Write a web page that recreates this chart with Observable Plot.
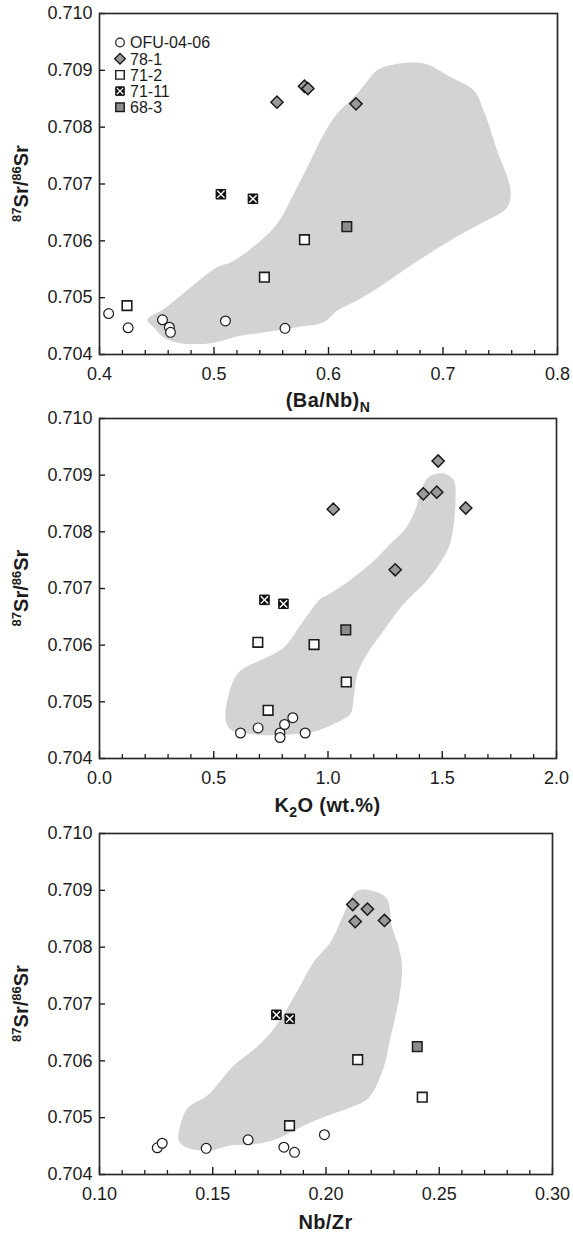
<!DOCTYPE html>
<html>
<head>
<meta charset="utf-8">
<script src="https://cdn.jsdelivr.net/npm/d3@7"></script>
<script src="https://cdn.jsdelivr.net/npm/@observablehq/plot@0.6"></script>
<style>
  body { margin: 0; background: #fff; }
  #root { position: relative; width: 573px; height: 1233px; background: #fff; font-family: "Liberation Sans", Arial, sans-serif; }
  #root svg { position: absolute; left: 0; overflow: visible; }
</style>
</head>
<body>
<div id="root"></div>
<script>
// ---------- shared ----------
const srTicks = [0.704, 0.705, 0.706, 0.707, 0.708, 0.709, 0.710];
const srDomain = [0.704, 0.710];
const legendNames = ["OFU-04-06", "78-1", "71-2", "71-11", "68-3"];

// ---------- Panel 1: (Ba/Nb)N ----------
const baNbTicks = [0.4, 0.5, 0.6, 0.7, 0.8];
const baNbMinor = [0.42,0.44,0.46,0.48,0.52,0.54,0.56,0.58,0.62,0.64,0.66,0.68,0.72,0.74,0.76,0.78];
const baNb_ofu_x = [0.408, 0.425, 0.455, 0.461, 0.462, 0.510, 0.562];
const baNb_ofu_y = [0.70472, 0.70447, 0.70461, 0.70448, 0.70439, 0.70459, 0.70446];
const baNb_781_x = [0.555, 0.579, 0.582, 0.624];
const baNb_781_y = [0.70844, 0.70872, 0.70868, 0.70841];
const baNb_712_x = [0.424, 0.544, 0.579];
const baNb_712_y = [0.70486, 0.70536, 0.70602];
const baNb_7111_x = [0.506, 0.534];
const baNb_7111_y = [0.70682, 0.70674];
const baNb_683_x = [0.616];
const baNb_683_y = [0.70625];
const baNb_field_x = [0.4417,0.4562,0.4795,0.5028,0.5144,0.5377,0.5552,0.5697,0.5843,0.5959,0.6076,0.6251,0.6425,0.6541,0.6832,0.7066,0.7269,0.7356,0.7473,0.7590,0.7561,0.7328,0.7066,0.6745,0.6483,0.6279,0.6076,0.5959,0.5727,0.5435,0.5231,0.4969,0.4707,0.4562,0.4474];
const baNb_field_y = [0.70461,0.70480,0.70518,0.70554,0.70562,0.70595,0.70630,0.70683,0.70741,0.70788,0.70824,0.70859,0.70900,0.70909,0.70912,0.70888,0.70865,0.70829,0.70759,0.70689,0.70659,0.70630,0.70601,0.70560,0.70524,0.70498,0.70477,0.70457,0.70448,0.70439,0.70433,0.70420,0.70420,0.70430,0.70448];

// ---------- Panel 2: K2O ----------
const k2oTicks = [0.0, 0.5, 1.0, 1.5, 2.0];
const k2oMinor = [0.1,0.2,0.3,0.4,0.6,0.7,0.8,0.9,1.1,1.2,1.3,1.4,1.6,1.7,1.8,1.9];
const k2o_ofu_x = [0.617, 0.694, 0.790, 0.790, 0.810, 0.846, 0.900];
const k2o_ofu_y = [0.70445, 0.70454, 0.70445, 0.70437, 0.70460, 0.70472, 0.70445];
const k2o_781_x = [1.023, 1.294, 1.417, 1.476, 1.482, 1.603];
const k2o_781_y = [0.70840, 0.70733, 0.70867, 0.70870, 0.70925, 0.70842];
const k2o_712_x = [0.693, 0.939, 1.080, 0.738];
const k2o_712_y = [0.70605, 0.70601, 0.70535, 0.70485];
const k2o_7111_x = [0.722, 0.805];
const k2o_7111_y = [0.70680, 0.70673];
const k2o_683_x = [1.078];
const k2o_683_y = [0.70627];
const k2o_field_x = [0.5514,0.5659,0.6026,0.6389,0.7190,0.8066,0.8941,0.9672,0.9965,1.0840,1.2004,1.2735,1.3317,1.3755,1.4193,1.4486,1.5068,1.5505,1.5580,1.5505,1.5287,1.4779,1.4193,1.3317,1.2442,1.1716,1.1278,1.1129,1.0985,1.0403,0.9527,0.8796,0.7628,0.6464,0.5733];
const k2o_field_y = [0.70470,0.70514,0.70549,0.70561,0.70576,0.70596,0.70644,0.70682,0.70688,0.70711,0.70749,0.70779,0.70802,0.70832,0.70885,0.70899,0.70903,0.70891,0.70855,0.70814,0.70773,0.70738,0.70708,0.70673,0.70626,0.70585,0.70549,0.70508,0.70479,0.70464,0.70449,0.70444,0.70441,0.70444,0.70451];

// ---------- Panel 3: Nb/Zr ----------
const nbZrTicks = [0.10, 0.15, 0.20, 0.25, 0.30];
const nbZrMinor = [0.11,0.12,0.13,0.14,0.16,0.17,0.18,0.19,0.21,0.22,0.23,0.24,0.26,0.27,0.28,0.29];
const nbZr_ofu_x = [0.1255, 0.1277, 0.1471, 0.1656, 0.1814, 0.1861, 0.1993];
const nbZr_ofu_y = [0.70447, 0.70455, 0.70446, 0.70461, 0.70448, 0.70439, 0.70470];
const nbZr_781_x = [0.2118, 0.2183, 0.2129, 0.2258];
const nbZr_781_y = [0.70875, 0.70867, 0.70845, 0.70847];
const nbZr_712_x = [0.2140, 0.2425, 0.1839];
const nbZr_712_y = [0.70602, 0.70536, 0.70486];
const nbZr_7111_x = [0.1781, 0.1840];
const nbZr_7111_y = [0.70681, 0.70674];
const nbZr_683_x = [0.2403];
const nbZr_683_y = [0.70625];
const nbZr_field_x = [0.1350,0.1358,0.1387,0.1416,0.1476,0.1593,0.1667,0.1725,0.1785,0.1858,0.1946,0.2020,0.2079,0.2123,0.2152,0.2241,0.2273,0.2292,0.2321,0.2336,0.2321,0.2285,0.2255,0.2189,0.2108,0.1990,0.1887,0.1785,0.1696,0.1578,0.1490,0.1387];
const nbZr_field_y = [0.70460,0.70489,0.70516,0.70525,0.70539,0.70592,0.70615,0.70636,0.70665,0.70712,0.70774,0.70809,0.70859,0.70894,0.70901,0.70894,0.70882,0.70835,0.70800,0.70765,0.70706,0.70642,0.70589,0.70535,0.70518,0.70501,0.70483,0.70463,0.70454,0.70451,0.70442,0.70447];

// ---------- styling ----------
const INK = "#1c1c1c";
const FIELD = "#d3d3d3";
const GREY_D = "#9a9a9a";
const GREY_S = "#8c8c8c";
const FONT = "'Liberation Sans', Arial, Helvetica, sans-serif";

const zip = (xs, ys) => xs.map((x, i) => ({x, y: ys[i]}));

function panel(cfg) {
  const W = 573;
  const iw = W - 99 - cfg.mr;
  const ih = cfg.height - cfg.mt - cfg.mb;
  const chart = Plot.plot({
    width: W,
    height: cfg.height,
    marginLeft: 99,
    marginRight: cfg.mr,
    marginTop: cfg.mt,
    marginBottom: cfg.mb,
    x: {domain: cfg.xDomain},
    y: {domain: srDomain},
    style: {fontFamily: FONT, fontSize: "18px", color: INK, background: "transparent", overflow: "visible"},
    marks: [
      Plot.line(zip(cfg.fieldX, cfg.fieldY), {x: "x", y: "y", curve: "catmull-rom-closed", fill: FIELD, stroke: "none"}),
      Plot.tickX(cfg.xMinor, {x: d => d, insetTop: ih - 4, stroke: INK, strokeWidth: 1.3}),
      Plot.tickX(cfg.xMajor, {x: d => d, insetTop: ih - 7, stroke: INK, strokeWidth: 1.4}),
      Plot.tickY(srTicks, {y: d => d, insetRight: iw - 6, stroke: INK, strokeWidth: 1.4}),
      Plot.frame({stroke: "#2b2b2b", strokeWidth: 1.7}),
      Plot.axisX(cfg.xMajor, {tickSize: 0, tickPadding: 13, tickFormat: d3.format(cfg.xFmt), label: null, fontSize: 18}),
      Plot.axisY(srTicks, {tickSize: 0, tickPadding: 7, tickFormat: d3.format(".3f"), label: null, fontSize: 18}),
      Plot.dot(zip(cfg.ofuX, cfg.ofuY), {x: "x", y: "y", symbol: "circle", r: 4.9, fill: "white", stroke: INK, strokeWidth: 1.2}),
      Plot.dot(zip(cfg.s712X, cfg.s712Y), {x: "x", y: "y", symbol: "square", r: 5.4, fill: "white", stroke: INK, strokeWidth: 1.6}),
      Plot.dot(zip(cfg.s683X, cfg.s683Y), {x: "x", y: "y", symbol: "square", r: 5.4, fill: GREY_S, stroke: INK, strokeWidth: 1.5}),
      Plot.dot(zip(cfg.s7111X, cfg.s7111Y), {x: "x", y: "y", symbol: "square", r: 5.4, fill: "#111", stroke: "#111", strokeWidth: 1}),
      Plot.dot(zip(cfg.s7111X, cfg.s7111Y), {x: "x", y: "y", symbol: "times", r: 3.4, fill: "none", stroke: "white", strokeWidth: 1.4}),
      Plot.dot(zip(cfg.d781X, cfg.d781Y), {x: "x", y: "y", symbol: "diamond2", r: 5.5, fill: GREY_D, stroke: INK, strokeWidth: 1.5})
    ]
  });
  chart.style.top = cfg.top + "px";
  const svg = d3.select(chart);

  // y-axis title 87Sr/86Sr
  const cy = cfg.mt + ih / 2;
  const yt = svg.append("text")
    .attr("transform", `translate(28,${cy}) rotate(-90)`)
    .attr("text-anchor", "middle")
    .attr("font-family", FONT).attr("font-weight", "bold").attr("font-size", 20).attr("fill", INK);
  yt.append("tspan").attr("font-size", 13).attr("dy", -7).text("87");
  yt.append("tspan").attr("dy", 7).text("Sr/");
  yt.append("tspan").attr("font-size", 13).attr("dy", -7).text("86");
  yt.append("tspan").attr("dy", 7).text("Sr");

  // x-axis title
  const xt = svg.append("text")
    .attr("x", 99 + iw / 2).attr("y", cfg.mt + ih + cfg.titleGap)
    .attr("text-anchor", "middle")
    .attr("font-family", FONT).attr("font-weight", "bold").attr("font-size", 20).attr("fill", INK)
    .attr("letter-spacing", 0.4);
  cfg.xTitle(xt);

  if (cfg.legend) {
    const lx = 120, ly0 = 42.5, step = 16.2;
    const syms = [
      {t: d3.symbolCircle, s: Math.PI * 4.3 * 4.3, f: "white", sw: 1.2},
      {t: d3.symbolDiamond2, s: Math.PI * 4.8 * 4.8, f: GREY_D, sw: 1.4},
      {t: d3.symbolSquare, s: Math.PI * 4.8 * 4.8, f: "white", sw: 1.4},
      {t: d3.symbolSquare, s: Math.PI * 4.8 * 4.8, f: "#111", sw: 1},
      {t: d3.symbolSquare, s: Math.PI * 4.8 * 4.8, f: GREY_S, sw: 1.4}
    ];
    const lg = svg.append("g").attr("text-anchor", "start");
    legendNames.forEach((name, i) => {
      const y = ly0 + i * step;
      lg.append("path").attr("transform", `translate(${lx},${y})`)
        .attr("d", d3.symbol(syms[i].t, syms[i].s)())
        .attr("fill", syms[i].f).attr("stroke", i === 3 ? "#111" : INK).attr("stroke-width", syms[i].sw);
      if (i === 3) {
        lg.append("path").attr("transform", `translate(${lx},${y})`)
          .attr("d", d3.symbol(d3.symbolTimes, Math.PI * 3 * 3)())
          .attr("fill", "none").attr("stroke", "white").attr("stroke-width", 1.3);
      }
      lg.append("text").attr("x", lx + 10).attr("y", y + 5.8)
        .attr("text-anchor", "start")
        .attr("font-family", FONT).attr("font-size", 16).attr("fill", INK).text(name);
    });
  }
  document.getElementById("root").appendChild(chart);
}

panel({
  top: 0, height: 414, mt: 13, mb: 60, mr: 16, titleGap: 53,
  xDomain: [0.4, 0.8], xMajor: baNbTicks, xMinor: baNbMinor, xFmt: ".1f",
  fieldX: baNb_field_x, fieldY: baNb_field_y,
  ofuX: baNb_ofu_x, ofuY: baNb_ofu_y, d781X: baNb_781_x, d781Y: baNb_781_y,
  s712X: baNb_712_x, s712Y: baNb_712_y, s7111X: baNb_7111_x, s7111Y: baNb_7111_y,
  s683X: baNb_683_x, s683Y: baNb_683_y,
  legend: true,
  xTitle: t => { t.append("tspan").text("(Ba/Nb)"); t.append("tspan").attr("font-size", 14).attr("dy", 5).text("N"); }
});

panel({
  top: 414, height: 414, mt: 4, mb: 70, mr: 17, titleGap: 54,
  xDomain: [0, 2], xMajor: k2oTicks, xMinor: k2oMinor, xFmt: ".1f",
  fieldX: k2o_field_x, fieldY: k2o_field_y,
  ofuX: k2o_ofu_x, ofuY: k2o_ofu_y, d781X: k2o_781_x, d781Y: k2o_781_y,
  s712X: k2o_712_x, s712Y: k2o_712_y, s7111X: k2o_7111_x, s7111Y: k2o_7111_y,
  s683X: k2o_683_x, s683Y: k2o_683_y,
  legend: false,
  xTitle: t => {
    t.append("tspan").text("K");
    t.append("tspan").attr("font-size", 14).attr("dy", 5).text("2");
    t.append("tspan").attr("dy", -5).text("O (wt.%)");
  }
});

panel({
  top: 828, height: 405, mt: 5, mb: 59, mr: 21, titleGap: 55,
  xDomain: [0.1, 0.3], xMajor: nbZrTicks, xMinor: nbZrMinor, xFmt: ".2f",
  fieldX: nbZr_field_x, fieldY: nbZr_field_y,
  ofuX: nbZr_ofu_x, ofuY: nbZr_ofu_y, d781X: nbZr_781_x, d781Y: nbZr_781_y,
  s712X: nbZr_712_x, s712Y: nbZr_712_y, s7111X: nbZr_7111_x, s7111Y: nbZr_7111_y,
  s683X: nbZr_683_x, s683Y: nbZr_683_y,
  legend: false,
  xTitle: t => { t.append("tspan").text("Nb/Zr"); }
});
</script>
</body>
</html>
